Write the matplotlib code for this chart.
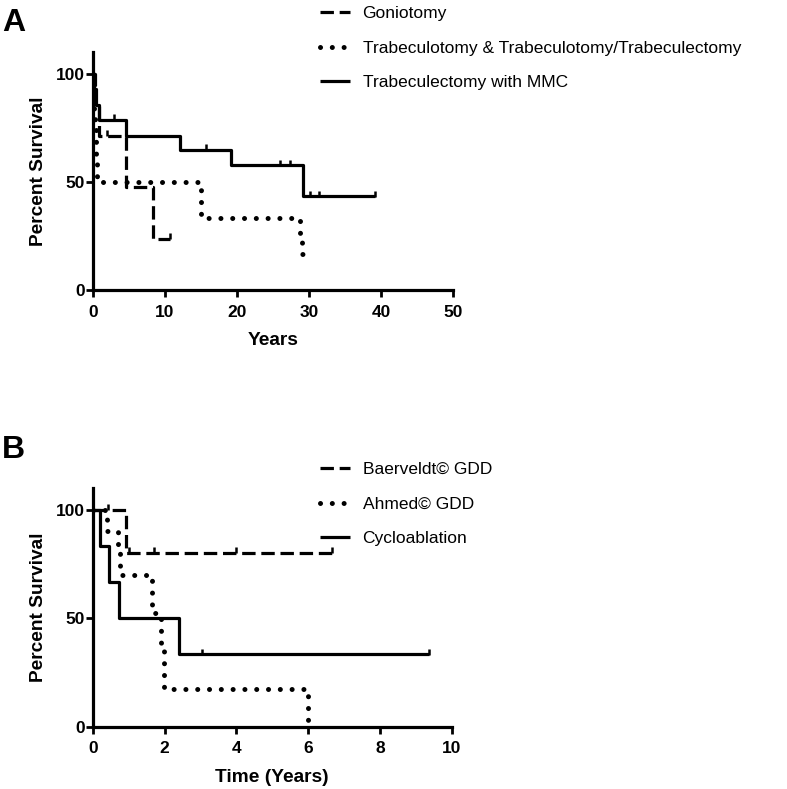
import numpy as np
import matplotlib.pyplot as plt

plt.rcParams['font.family'] = ['Liberation Sans', 'DejaVu Sans']

# ---- Panel A data (years, percent survival) ----
gonio_t = [0, 0.3, 0.8, 4.6, 8.3, 10.7]
gonio_s = [100, 85.7, 71.4, 47.6, 23.8, 23.8]
gonio_cens = [2.0, 10.7]

trab_t = [0, 0.1, 0.2, 0.3, 0.4, 0.5, 0.6, 15.0, 28.8, 29.0, 29.2]
trab_s = [100, 91.7, 83.3, 75.0, 66.7, 58.3, 50.0, 33.3, 25.0, 16.7, 16.7]
trab_cens = []

mmc_t = [0, 0.2, 0.5, 0.9, 4.6, 12.1, 19.2, 29.2, 39.1]
mmc_s = [100, 92.9, 85.7, 78.6, 71.4, 64.9, 57.7, 43.3, 43.3]
mmc_cens = [2.9, 15.7, 26.0, 27.4, 30.1, 31.3, 39.1]

# ---- Panel B data ----
baer_t = [0, 0.93, 6.66]
baer_s = [100, 80, 80]
baer_cens = [0.41, 1.0, 1.69, 4.0, 6.66]

ahmed_t = [0, 0.4, 0.7, 0.75, 1.65, 1.9, 1.97, 6.0]
ahmed_s = [100, 90, 80, 70, 52.5, 35, 17.5, 0]
ahmed_cens = []

cyclo_t = [0, 0.19, 0.44, 0.74, 2.39, 9.37]
cyclo_s = [100, 83.3, 66.7, 50, 33.3, 33.3]
cyclo_cens = [3.04, 9.37]

LW = 2.3
DOT_LW = 3.6
DASH = (0, (4.2, 1.8))
DOT = (0, (0.01, 2.35))


def surv_at(t, s, x):
    idx = np.searchsorted(t, x, side='right') - 1
    return np.array(s)[idx]


def km(ax, t, s, cens, ls, label):
    if ls == DOT:
        ax.step(t, s, where='post', color='black', lw=DOT_LW, linestyle=ls,
                dash_capstyle='round', label=label)
    else:
        ax.step(t, s, where='post', color='black', lw=LW, linestyle=ls,
                dash_capstyle='butt', solid_capstyle='butt', label=label)
    if cens:
        ax.plot(cens, surv_at(t, s, cens) + 1.2, linestyle='none', marker='|',
                color='black', markersize=5, mew=1.8)


def style(ax, xmax, xstep, xlabel):
    ax.set_xlim(0, xmax)
    ax.set_ylim(0, 110)
    ax.set_xticks(np.arange(0, xmax + 0.01, xstep))
    ax.set_yticks([0, 50, 100])
    for sp in ['top', 'right']:
        ax.spines[sp].set_visible(False)
    for sp in ['left', 'bottom']:
        ax.spines[sp].set_linewidth(2.3)
    ax.tick_params(width=2.0, length=5, labelsize=12.5)
    ax.tick_params(axis='x', pad=5.5)
    ax.tick_params(axis='y', pad=1)
    for lab in ax.get_xticklabels() + ax.get_yticklabels():
        lab.set_fontweight('bold')
    ax.set_xlabel(xlabel, fontsize=13.8, fontweight='bold', labelpad=9)
    ax.set_ylabel('Percent Survival', fontsize=13.8, fontweight='bold', labelpad=6)


def legend(ax, top_px):
    ax.legend(loc='upper left', bbox_to_anchor=(320 / 787, 1 - top_px / 789),
              bbox_transform=fig.transFigure, frameon=False, fontsize=12.5,
              handlelength=1.75, handletextpad=0.7, labelspacing=1.12,
              borderpad=0, borderaxespad=0)


fig = plt.figure(figsize=(7.87, 7.89), dpi=100)

axA = fig.add_axes([0.118, 0.6324, 0.458, 0.3016])
km(axA, gonio_t, gonio_s, gonio_cens, DASH, 'Goniotomy')
km(axA, trab_t, trab_s, trab_cens, DOT, 'Trabeculotomy & Trabeculotomy/Trabeculectomy')
km(axA, mmc_t, mmc_s, mmc_cens, '-', 'Trabeculectomy with MMC')
style(axA, 50, 10, 'Years')
legend(axA, 6)

axB = fig.add_axes([0.118, 0.079, 0.456, 0.3025])
km(axB, baer_t, baer_s, baer_cens, DASH, 'Baerveldt© GDD')
km(axB, ahmed_t, ahmed_s, ahmed_cens, DOT, 'Ahmed© GDD')
km(axB, cyclo_t, cyclo_s, cyclo_cens, '-', 'Cycloablation')
style(axB, 10, 2, 'Time (Years)')
legend(axB, 462)

fig.text(2 / 787, 1 - 31 / 789, 'A', fontsize=23, fontweight='bold', va='baseline')
fig.text(2 / 787, 1 - 458 / 789, 'B', fontsize=23, fontweight='bold', va='baseline')

fig.savefig('out.png', dpi=100)
